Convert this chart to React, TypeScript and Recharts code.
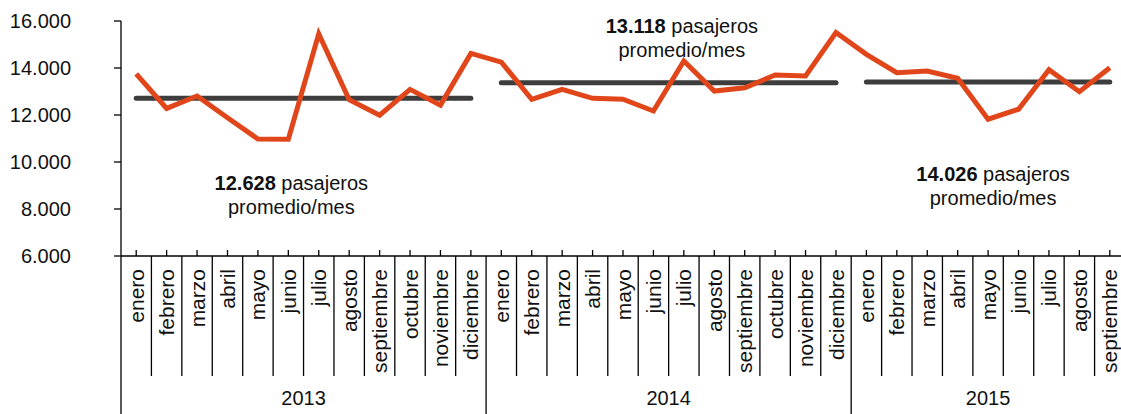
import { LineChart, Line, XAxis, YAxis, ReferenceDot } from 'recharts'

const meses = ['enero', 'febrero', 'marzo', 'abril', 'mayo', 'junio', 'julio', 'agosto', 'septiembre', 'octubre', 'noviembre', 'diciembre']
const anios = ['2013', '2014', '2015']

// pasajeros por mes
const pasajeros2013 = [13750, 12280, 12810, 11880, 10980, 10970, 15450, 12650, 11990, 13090, 12420, 14620]
const pasajeros2014 = [14250, 12670, 13090, 12710, 12670, 12170, 14300, 13020, 13160, 13700, 13660, 15510]
const pasajeros2015 = [14580, 13800, 13870, 13560, 11820, 12245, 13930, 12990, 14010]

// nivel al que esta dibujada la linea de promedio de cada año
const promedioLinea = [12710, 13375, 13400]
const promedioTexto = ['12.628', '13.118', '14.026']
// donde va cada texto de promedio (mes de referencia y altura)
const notaMes = ['2013-06', '2014-07', '2015-05']
const notaValor = [9100, 15800, 9500]
const notaDx = [3, -2, 5]

const yTicks = [6000, 8000, 10000, 12000, 14000, 16000]

const series = [pasajeros2013, pasajeros2014, pasajeros2015]

const data = series.flatMap((valores, a) =>
  valores.map((v, m) => {
    const row: any = {
      key: `${anios[a]}-${String(m + 1).padStart(2, '0')}`,
      mes: meses[m],
      anio: a,
      pasajeros: v,
    }
    row[`prom${anios[a]}`] = promedioLinea[a]
    return row
  })
)

const FONT = '"Liberation Sans", Arial, sans-serif'
const ORANGE = '#E1461B'
const GRIS = '#3d3d3d'

const miles = (v: number) => String(Math.round(v)).replace(/\B(?=(\d{3})+(?!\d))/g, '.')

function MesTick(props: any) {
  const { x, y, index, payload } = props
  const half = payload?.offset > 0 ? payload.offset : 15.2
  const row = data[index]
  if (!row) return null
  const count = series[row.anio].length
  const first = index === 0 || data[index - 1].anio !== row.anio
  const last = index === data.length - 1 || data[index + 1].anio !== row.anio
  return (
    <g>
      <line x1={x} x2={x} y1={y - 6} y2={y} stroke="#000" strokeWidth={1.3} />
      <text
        x={x}
        y={y + 13}
        transform={`rotate(-90, ${x}, ${y + 13})`}
        textAnchor="end"
        dy="0.36em"
        fontSize={21}
        fontFamily={FONT}
        fill="#111"
      >
        {row.mes}
      </text>
      {first && <line x1={x - half} x2={x - half} y1={y} y2={y + 160} stroke="#000" strokeWidth={1.3} />}
      {!last && <line x1={x + half} x2={x + half} y1={y} y2={y + 120} stroke="#000" strokeWidth={1.3} />}
      {first && (
        <text
          x={x + (count - 1) * half}
          y={y + 142}
          dy="0.36em"
          textAnchor="middle"
          fontSize={20}
          fontFamily={FONT}
          fill="#111"
        >
          {anios[row.anio]}
        </text>
      )}
    </g>
  )
}

function Nota({ cx, cy, i }: { cx: number; cy: number; i: number }) {
  const x = cx + notaDx[i]
  return (
    <g>
      <text x={x} y={cy} dy="0.36em" textAnchor="middle" fontSize={20} fontFamily={FONT} fill="#111">
        <tspan fontWeight="bold">{promedioTexto[i]}</tspan>
        <tspan> pasajeros</tspan>
      </text>
      <text x={x} y={cy + 24} dy="0.36em" textAnchor="middle" fontSize={20} fontFamily={FONT} fill="#111">
        promedio/mes
      </text>
    </g>
  )
}

export default function App() {
  return (
    <div style={{ position: 'absolute', left: 0, top: 0, width: 1121, height: 414, overflow: 'hidden', background: '#fff' }}>
      <LineChart width={1125} height={414} data={data} margin={{ top: 21, right: 0, left: 0, bottom: 0 }}>
        <XAxis
          dataKey="key"
          scale="band"
          height={158}
          interval={0}
          tickSize={0}
          tickMargin={0}
          tickLine={false}
          axisLine={{ stroke: '#000', strokeWidth: 1.3 }}
          tick={<MesTick />}
        />
        <YAxis
          width={121}
          type="number"
          domain={[6000, 16000]}
          ticks={yTicks}
          interval={0}
          tickFormatter={miles}
          tickSize={7}
          tickMargin={43}
          axisLine={{ stroke: '#000', strokeWidth: 1.3 }}
          tickLine={{ stroke: '#000', strokeWidth: 1.3 }}
          tick={{ fontSize: 20, fontFamily: FONT, fill: '#111' }}
        />
        {anios.map((a) => (
          <Line
            key={a}
            type="linear"
            dataKey={`prom${a}`}
            stroke={GRIS}
            strokeWidth={5}
            strokeLinecap="round"
            dot={false}
            activeDot={false}
            isAnimationActive={false}
          />
        ))}
        <Line
          type="linear"
          dataKey="pasajeros"
          stroke={ORANGE}
          strokeWidth={5}
          dot={false}
          activeDot={false}
          isAnimationActive={false}
        />
        {notaMes.map((m, i) => (
          <ReferenceDot
            key={m}
            x={m}
            y={notaValor[i]}
            r={0}
            shape={(p: any) => <Nota cx={p.cx} cy={p.cy} i={i} />}
          />
        ))}
      </LineChart>
    </div>
  )
}
